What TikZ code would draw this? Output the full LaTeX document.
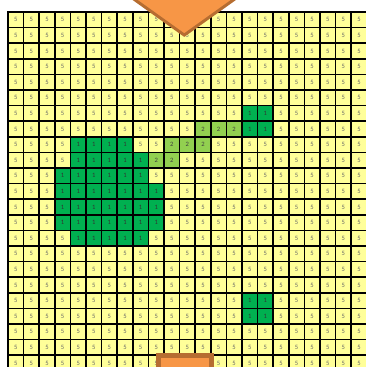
\documentclass[tikz,border=0pt]{standalone}
\usepackage{fontspec}
\setmainfont{Carlito}

\definecolor{cellyellow}{HTML}{FFFF99}
\definecolor{darkgreen}{HTML}{00B050}
\definecolor{lightgreen}{HTML}{92D050}
\definecolor{arroworange}{HTML}{F79646}
\definecolor{arrowbrown}{HTML}{B66D31}

\begin{document}
\begin{tikzpicture}[
    x=0.5cm, y=-0.5cm,
    cell/.style={rectangle, draw=black, line width=1.4pt, minimum size=0.5cm, inner sep=0pt, font=\fontsize{6}{7}\selectfont},
    val5/.style={cell, fill=cellyellow, text=black!60},
    val1/.style={cell, fill=darkgreen, text=black!80},
    val2/.style={cell, fill=lightgreen, text=black!75},
    flow/.style={fill=arroworange, draw=arrowbrown, line join=miter}
]
\useasboundingbox (-0.513,-0.77) rectangle (22.95,22.76);
\clip (-0.513,-0.77) rectangle (22.95,22.76);

% value grid, one list per row
\foreach \row [count=\r from 0] in {
  {5,5,5,5,5,5,5,5,5,5,5,5,5,5,5,5,5,5,5,5,5,5,5},
  {5,5,5,5,5,5,5,5,5,5,5,5,5,5,5,5,5,5,5,5,5,5,5},
  {5,5,5,5,5,5,5,5,5,5,5,5,5,5,5,5,5,5,5,5,5,5,5},
  {5,5,5,5,5,5,5,5,5,5,5,5,5,5,5,5,5,5,5,5,5,5,5},
  {5,5,5,5,5,5,5,5,5,5,5,5,5,5,5,5,5,5,5,5,5,5,5},
  {5,5,5,5,5,5,5,5,5,5,5,5,5,5,5,5,5,5,5,5,5,5,5},
  {5,5,5,5,5,5,5,5,5,5,5,5,5,5,5,1,1,5,5,5,5,5,5},
  {5,5,5,5,5,5,5,5,5,5,5,5,2,2,2,1,1,5,5,5,5,5,5},
  {5,5,5,5,1,1,1,1,5,5,2,2,2,5,5,5,5,5,5,5,5,5,5},
  {5,5,5,5,1,1,1,1,1,2,2,5,5,5,5,5,5,5,5,5,5,5,5},
  {5,5,5,1,1,1,1,1,1,5,5,5,5,5,5,5,5,5,5,5,5,5,5},
  {5,5,5,1,1,1,1,1,1,1,5,5,5,5,5,5,5,5,5,5,5,5,5},
  {5,5,5,1,1,1,1,1,1,1,5,5,5,5,5,5,5,5,5,5,5,5,5},
  {5,5,5,1,1,1,1,1,1,1,5,5,5,5,5,5,5,5,5,5,5,5,5},
  {5,5,5,5,1,1,1,1,1,5,5,5,5,5,5,5,5,5,5,5,5,5,5},
  {5,5,5,5,5,5,5,5,5,5,5,5,5,5,5,5,5,5,5,5,5,5,5},
  {5,5,5,5,5,5,5,5,5,5,5,5,5,5,5,5,5,5,5,5,5,5,5},
  {5,5,5,5,5,5,5,5,5,5,5,5,5,5,5,5,5,5,5,5,5,5,5},
  {5,5,5,5,5,5,5,5,5,5,5,5,5,5,5,1,1,5,5,5,5,5,5},
  {5,5,5,5,5,5,5,5,5,5,5,5,5,5,5,1,1,5,5,5,5,5,5},
  {5,5,5,5,5,5,5,5,5,5,5,5,5,5,5,5,5,5,5,5,5,5,5},
  {5,5,5,5,5,5,5,5,5,5,5,5,5,5,5,5,5,5,5,5,5,5,5},
  {5,5,5,5,5,5,5,5,5,5,5,5,5,5,5,5,5,5,5,5,5,5,5}}{
  \foreach \v [count=\c from 0] in \row
    \node[val\v] (cell-\r-\c) at (\c+0.5,\r+0.5) {\v};
}

% inflow on top, outflow at the bottom
\draw[flow, line width=2.7pt] (3.63,-4) -- (11.3,1.48) -- (18.97,-4) -- cycle;
\draw[flow, line width=5pt] (9.65,22.02) rectangle (13.04,24.5);
\end{tikzpicture}
\end{document}
